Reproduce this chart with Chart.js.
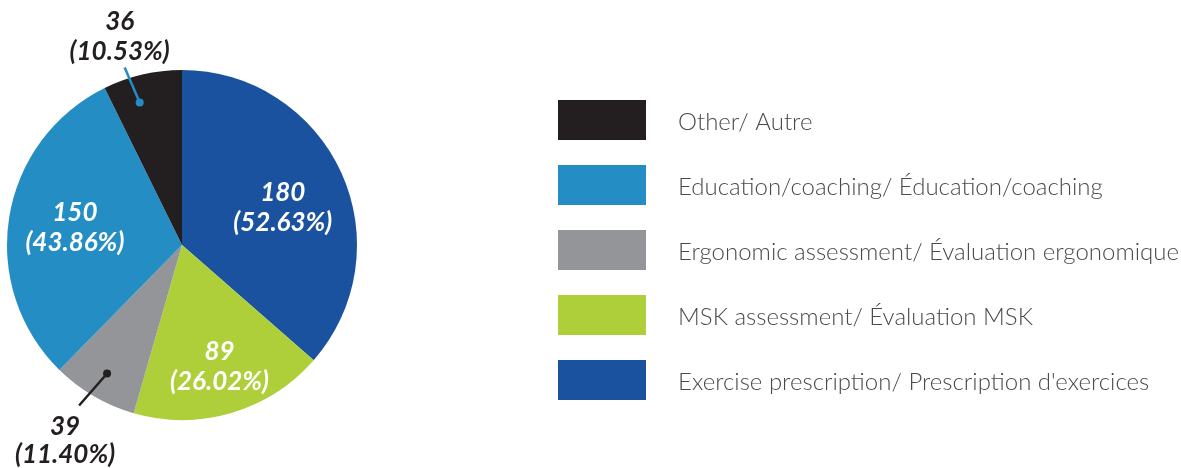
<!DOCTYPE html>
<html>
<head>
<meta charset="utf-8">
<script src="https://cdn.jsdelivr.net/npm/chart.js@4.4.0/dist/chart.umd.min.js"></script>
<style>
html,body{margin:0;padding:0;background:#fff;}
#wrap{width:1181px;height:468px;position:relative;}
</style>
</head>
<body>
<div id="wrap"><canvas id="c" width="1181" height="468"></canvas></div>
<script>
// Data (clockwise from 12 o'clock)
const categories = [
  "Exercise prescription/ Prescription d'exercices",
  "MSK assessment/ Évaluation MSK",
  "Ergonomic assessment/ Évaluation ergonomique",
  "Education/coaching/ Éducation/coaching",
  "Other/ Autre"
];
const counts = [180, 89, 39, 150, 36];
const respondents = 342;
const colors = ['#1a52a0', '#afcf3a', '#939598', '#238dc4', '#231f20'];

// label placement (index-aligned)
const labelInside = [true, true, false, true, false];
const labelRadius = [0.62, 0.74, 0.85, 0.62, 0.85];
const labelAngleFrac = [0.5, 0.5, 0.5, 0.5, 0.37];
const labelShift = [[2, 7], [1, -3], [0, 0], [0, 0], [0, 0]];

const sliceLabels = {
  id: 'sliceLabels',
  afterDatasetsDraw(chart) {
    const ctx = chart.ctx;
    const meta = chart.getDatasetMeta(0);
    meta.data.forEach((arc, i) => {
      const v = counts[i];
      const pct = (v / respondents * 100).toFixed(2) + '%';
      const ang = arc.startAngle + (arc.endAngle - arc.startAngle) * labelAngleFrac[i];
      const R = arc.outerRadius;
      const r = R * labelRadius[i];
      const px = arc.x + Math.cos(ang) * r + labelShift[i][0];
      const py = arc.y + Math.sin(ang) * r + labelShift[i][1];
      ctx.save();
      ctx.font = 'italic bold 26px Lato';
      ctx.textAlign = 'center';
      ctx.textBaseline = 'middle';
      if (labelInside[i]) {
        ctx.fillStyle = '#ffffff';
        ctx.fillText(String(v), px, py - 15);
        ctx.fillText('(' + pct + ')', px, py + 15);
      } else {
        const lineColor = i === 4 ? '#238dc4' : '#231f20';
        let ex, ey, tx, ty1, ty2;
        if (i === 4) { ex = px - 15; ey = py - 35; tx = px - 20; ty1 = py - 81; ty2 = py - 51; }
        else { ex = px - 28; ey = py + 32; tx = px - 42; ty1 = py + 53; ty2 = py + 81; }
        ctx.strokeStyle = lineColor;
        ctx.lineWidth = 2.5;
        ctx.beginPath();
        ctx.moveTo(px, py);
        ctx.lineTo(ex, ey);
        ctx.stroke();
        ctx.fillStyle = lineColor;
        ctx.beginPath();
        ctx.arc(px, py, 4, 0, Math.PI * 2);
        ctx.fill();
        ctx.fillStyle = '#231f20';
        ctx.fillText(String(v), tx, ty1);
        ctx.fillText('(' + pct + ')', tx, ty2);
      }
      ctx.restore();
    });
  }
};

const boxLegend = {
  id: 'boxLegend',
  afterDraw(chart) {
    const ctx = chart.ctx;
    const ds = chart.data.datasets[0];
    const n = chart.data.labels.length;
    const x0 = 558, y0 = 100, bw = 88, bh = 40, step = 65;
    ctx.save();
    for (let k = 0; k < n; k++) {
      const i = n - 1 - k; // reversed order
      const y = y0 + k * step;
      ctx.fillStyle = ds.backgroundColor[i];
      ctx.fillRect(x0, y, bw, bh);
      ctx.fillStyle = '#4a4a4c';
      ctx.font = '300 24px Lato';
      ctx.textAlign = 'left';
      ctx.textBaseline = 'middle';
      ctx.fillText(chart.data.labels[i], 678, y + bh / 2 + 2);
    }
    ctx.restore();
  }
};

new Chart(document.getElementById('c'), {
  type: 'pie',
  data: {
    labels: categories,
    datasets: [{
      data: counts,
      backgroundColor: colors,
      borderWidth: 0
    }]
  },
  options: {
    responsive: false,
    animation: false,
    layout: { padding: { left: 7, top: 70, right: 824, bottom: 48 } },
    plugins: {
      legend: { display: false },
      tooltip: { enabled: false }
    }
  },
  plugins: [sliceLabels, boxLegend]
});
</script>
</body>
</html>
